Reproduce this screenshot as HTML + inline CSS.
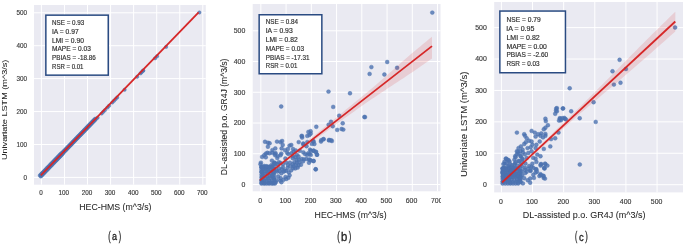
<!DOCTYPE html>
<html><head><meta charset="utf-8"><style>html,body{margin:0;padding:0;background:#fff;width:685px;height:245px;overflow:hidden;font-family:"Liberation Sans",sans-serif}svg{display:block;will-change:transform}</style></head>
<body><svg width="685" height="245" viewBox="0 0 685 245" font-family="Liberation Sans, sans-serif"><rect x="0" y="0" width="685" height="245" fill="#fff"/>
<rect x="34" y="5" width="171.80" height="179.70" fill="#EAEAF2"/>
<line x1="41.40" y1="5" x2="41.40" y2="184.7" stroke="#fff" stroke-width="1"/>
<line x1="64.46" y1="5" x2="64.46" y2="184.7" stroke="#fff" stroke-width="1"/>
<line x1="87.52" y1="5" x2="87.52" y2="184.7" stroke="#fff" stroke-width="1"/>
<line x1="110.58" y1="5" x2="110.58" y2="184.7" stroke="#fff" stroke-width="1"/>
<line x1="133.64" y1="5" x2="133.64" y2="184.7" stroke="#fff" stroke-width="1"/>
<line x1="156.70" y1="5" x2="156.70" y2="184.7" stroke="#fff" stroke-width="1"/>
<line x1="179.76" y1="5" x2="179.76" y2="184.7" stroke="#fff" stroke-width="1"/>
<line x1="202.82" y1="5" x2="202.82" y2="184.7" stroke="#fff" stroke-width="1"/>
<line x1="34" y1="177.40" x2="205.8" y2="177.40" stroke="#fff" stroke-width="1"/>
<line x1="34" y1="144.48" x2="205.8" y2="144.48" stroke="#fff" stroke-width="1"/>
<line x1="34" y1="111.56" x2="205.8" y2="111.56" stroke="#fff" stroke-width="1"/>
<line x1="34" y1="78.64" x2="205.8" y2="78.64" stroke="#fff" stroke-width="1"/>
<line x1="34" y1="45.72" x2="205.8" y2="45.72" stroke="#fff" stroke-width="1"/>
<line x1="34" y1="12.80" x2="205.8" y2="12.80" stroke="#fff" stroke-width="1"/>
<rect x="252.7" y="4" width="187.80" height="187.30" fill="#EAEAF2"/>
<line x1="260.85" y1="4" x2="260.85" y2="191.3" stroke="#fff" stroke-width="1"/>
<line x1="286.09" y1="4" x2="286.09" y2="191.3" stroke="#fff" stroke-width="1"/>
<line x1="311.33" y1="4" x2="311.33" y2="191.3" stroke="#fff" stroke-width="1"/>
<line x1="336.57" y1="4" x2="336.57" y2="191.3" stroke="#fff" stroke-width="1"/>
<line x1="361.81" y1="4" x2="361.81" y2="191.3" stroke="#fff" stroke-width="1"/>
<line x1="387.05" y1="4" x2="387.05" y2="191.3" stroke="#fff" stroke-width="1"/>
<line x1="412.29" y1="4" x2="412.29" y2="191.3" stroke="#fff" stroke-width="1"/>
<line x1="437.53" y1="4" x2="437.53" y2="191.3" stroke="#fff" stroke-width="1"/>
<line x1="252.7" y1="184.50" x2="440.5" y2="184.50" stroke="#fff" stroke-width="1"/>
<line x1="252.7" y1="153.76" x2="440.5" y2="153.76" stroke="#fff" stroke-width="1"/>
<line x1="252.7" y1="123.02" x2="440.5" y2="123.02" stroke="#fff" stroke-width="1"/>
<line x1="252.7" y1="92.28" x2="440.5" y2="92.28" stroke="#fff" stroke-width="1"/>
<line x1="252.7" y1="61.54" x2="440.5" y2="61.54" stroke="#fff" stroke-width="1"/>
<line x1="252.7" y1="30.80" x2="440.5" y2="30.80" stroke="#fff" stroke-width="1"/>
<rect x="494.2" y="2" width="188.80" height="190.40" fill="#EAEAF2"/>
<line x1="501.40" y1="2" x2="501.40" y2="192.4" stroke="#fff" stroke-width="1"/>
<line x1="532.53" y1="2" x2="532.53" y2="192.4" stroke="#fff" stroke-width="1"/>
<line x1="563.66" y1="2" x2="563.66" y2="192.4" stroke="#fff" stroke-width="1"/>
<line x1="594.79" y1="2" x2="594.79" y2="192.4" stroke="#fff" stroke-width="1"/>
<line x1="625.92" y1="2" x2="625.92" y2="192.4" stroke="#fff" stroke-width="1"/>
<line x1="657.05" y1="2" x2="657.05" y2="192.4" stroke="#fff" stroke-width="1"/>
<line x1="494.2" y1="184.70" x2="683" y2="184.70" stroke="#fff" stroke-width="1"/>
<line x1="494.2" y1="153.28" x2="683" y2="153.28" stroke="#fff" stroke-width="1"/>
<line x1="494.2" y1="121.86" x2="683" y2="121.86" stroke="#fff" stroke-width="1"/>
<line x1="494.2" y1="90.44" x2="683" y2="90.44" stroke="#fff" stroke-width="1"/>
<line x1="494.2" y1="59.02" x2="683" y2="59.02" stroke="#fff" stroke-width="1"/>
<line x1="494.2" y1="27.60" x2="683" y2="27.60" stroke="#fff" stroke-width="1"/>
<g fill="#4C72B0" fill-opacity="0.8" stroke="#4C72B0" stroke-opacity="0.8" stroke-width="0.5">
<circle cx="39.8" cy="175.5" r="1.7"/>
<circle cx="40.8" cy="176.5" r="1.7"/>
<circle cx="40.6" cy="174.7" r="1.7"/>
<circle cx="41.6" cy="175.7" r="1.7"/>
<circle cx="41.4" cy="173.8" r="1.7"/>
<circle cx="42.4" cy="174.9" r="1.7"/>
<circle cx="42.2" cy="173.0" r="1.7"/>
<circle cx="43.2" cy="174.0" r="1.7"/>
<circle cx="43.0" cy="172.2" r="1.7"/>
<circle cx="44.0" cy="173.2" r="1.7"/>
<circle cx="43.8" cy="171.4" r="1.7"/>
<circle cx="44.8" cy="172.4" r="1.7"/>
<circle cx="44.6" cy="170.5" r="1.7"/>
<circle cx="45.6" cy="171.6" r="1.7"/>
<circle cx="45.4" cy="169.7" r="1.7"/>
<circle cx="46.4" cy="170.7" r="1.7"/>
<circle cx="46.2" cy="168.9" r="1.7"/>
<circle cx="47.2" cy="169.9" r="1.7"/>
<circle cx="47.0" cy="168.0" r="1.7"/>
<circle cx="48.0" cy="169.1" r="1.7"/>
<circle cx="47.8" cy="167.2" r="1.7"/>
<circle cx="48.8" cy="168.3" r="1.7"/>
<circle cx="48.6" cy="166.4" r="1.7"/>
<circle cx="49.6" cy="167.4" r="1.7"/>
<circle cx="49.4" cy="165.6" r="1.7"/>
<circle cx="50.4" cy="166.6" r="1.7"/>
<circle cx="50.2" cy="164.7" r="1.7"/>
<circle cx="51.2" cy="165.8" r="1.7"/>
<circle cx="51.0" cy="163.9" r="1.7"/>
<circle cx="52.0" cy="165.0" r="1.7"/>
<circle cx="51.8" cy="163.1" r="1.7"/>
<circle cx="52.8" cy="164.1" r="1.7"/>
<circle cx="52.6" cy="162.3" r="1.7"/>
<circle cx="53.6" cy="163.3" r="1.7"/>
<circle cx="53.4" cy="161.4" r="1.7"/>
<circle cx="54.4" cy="162.5" r="1.7"/>
<circle cx="54.2" cy="160.6" r="1.7"/>
<circle cx="55.2" cy="161.6" r="1.7"/>
<circle cx="55.0" cy="159.8" r="1.7"/>
<circle cx="56.0" cy="160.8" r="1.7"/>
<circle cx="55.8" cy="159.0" r="1.7"/>
<circle cx="56.8" cy="160.0" r="1.7"/>
<circle cx="56.6" cy="158.1" r="1.7"/>
<circle cx="57.6" cy="159.2" r="1.7"/>
<circle cx="57.4" cy="157.3" r="1.7"/>
<circle cx="58.4" cy="158.3" r="1.7"/>
<circle cx="58.2" cy="156.5" r="1.7"/>
<circle cx="59.2" cy="157.5" r="1.7"/>
<circle cx="59.0" cy="155.6" r="1.7"/>
<circle cx="60.0" cy="156.7" r="1.7"/>
<circle cx="59.8" cy="154.8" r="1.7"/>
<circle cx="60.8" cy="155.9" r="1.7"/>
<circle cx="60.6" cy="154.0" r="1.7"/>
<circle cx="61.6" cy="155.0" r="1.7"/>
<circle cx="61.4" cy="153.2" r="1.7"/>
<circle cx="62.4" cy="154.2" r="1.7"/>
<circle cx="62.4" cy="152.5" r="1.7"/>
<circle cx="63.0" cy="153.2" r="1.7"/>
<circle cx="63.2" cy="151.7" r="1.7"/>
<circle cx="63.8" cy="152.3" r="1.7"/>
<circle cx="64.0" cy="150.9" r="1.7"/>
<circle cx="64.6" cy="151.5" r="1.7"/>
<circle cx="64.8" cy="150.1" r="1.7"/>
<circle cx="65.4" cy="150.7" r="1.7"/>
<circle cx="65.6" cy="149.2" r="1.7"/>
<circle cx="66.2" cy="149.9" r="1.7"/>
<circle cx="66.4" cy="148.4" r="1.7"/>
<circle cx="67.0" cy="149.0" r="1.7"/>
<circle cx="67.2" cy="147.6" r="1.7"/>
<circle cx="67.8" cy="148.2" r="1.7"/>
<circle cx="68.0" cy="146.8" r="1.7"/>
<circle cx="68.6" cy="147.4" r="1.7"/>
<circle cx="68.8" cy="145.9" r="1.7"/>
<circle cx="69.4" cy="146.6" r="1.7"/>
<circle cx="69.6" cy="145.1" r="1.7"/>
<circle cx="70.2" cy="145.7" r="1.7"/>
<circle cx="70.4" cy="144.3" r="1.7"/>
<circle cx="71.0" cy="144.9" r="1.7"/>
<circle cx="71.2" cy="143.5" r="1.7"/>
<circle cx="71.8" cy="144.1" r="1.7"/>
<circle cx="72.0" cy="142.6" r="1.7"/>
<circle cx="72.6" cy="143.3" r="1.7"/>
<circle cx="72.8" cy="141.8" r="1.7"/>
<circle cx="73.4" cy="142.4" r="1.7"/>
<circle cx="73.6" cy="141.0" r="1.7"/>
<circle cx="74.2" cy="141.6" r="1.7"/>
<circle cx="74.4" cy="140.1" r="1.7"/>
<circle cx="75.0" cy="140.8" r="1.7"/>
<circle cx="75.2" cy="139.3" r="1.7"/>
<circle cx="75.8" cy="139.9" r="1.7"/>
<circle cx="76.0" cy="138.5" r="1.7"/>
<circle cx="76.6" cy="139.1" r="1.7"/>
<circle cx="76.8" cy="137.7" r="1.7"/>
<circle cx="77.4" cy="138.3" r="1.7"/>
<circle cx="77.6" cy="136.8" r="1.7"/>
<circle cx="78.2" cy="137.5" r="1.7"/>
<circle cx="78.4" cy="136.0" r="1.7"/>
<circle cx="79.0" cy="136.6" r="1.7"/>
<circle cx="79.2" cy="135.2" r="1.7"/>
<circle cx="79.8" cy="135.8" r="1.7"/>
<circle cx="80.0" cy="134.4" r="1.7"/>
<circle cx="80.6" cy="135.0" r="1.7"/>
<circle cx="80.8" cy="133.5" r="1.7"/>
<circle cx="81.4" cy="134.2" r="1.7"/>
<circle cx="81.6" cy="132.7" r="1.7"/>
<circle cx="82.2" cy="133.3" r="1.7"/>
<circle cx="82.4" cy="131.9" r="1.7"/>
<circle cx="83.0" cy="132.5" r="1.7"/>
<circle cx="83.2" cy="131.1" r="1.7"/>
<circle cx="83.8" cy="131.7" r="1.7"/>
<circle cx="84.0" cy="130.2" r="1.7"/>
<circle cx="84.6" cy="130.9" r="1.7"/>
<circle cx="84.8" cy="129.4" r="1.7"/>
<circle cx="85.4" cy="130.0" r="1.7"/>
<circle cx="85.6" cy="128.6" r="1.7"/>
<circle cx="86.2" cy="129.2" r="1.7"/>
<circle cx="86.4" cy="127.8" r="1.7"/>
<circle cx="87.0" cy="128.4" r="1.7"/>
<circle cx="87.2" cy="126.9" r="1.7"/>
<circle cx="87.8" cy="127.5" r="1.7"/>
<circle cx="88.0" cy="126.1" r="1.7"/>
<circle cx="88.6" cy="126.7" r="1.7"/>
<circle cx="88.8" cy="125.3" r="1.7"/>
<circle cx="89.4" cy="125.9" r="1.7"/>
<circle cx="89.6" cy="124.4" r="1.7"/>
<circle cx="90.2" cy="125.1" r="1.7"/>
<circle cx="90.4" cy="123.6" r="1.7"/>
<circle cx="91.0" cy="124.2" r="1.7"/>
<circle cx="91.2" cy="122.8" r="1.7"/>
<circle cx="91.8" cy="123.4" r="1.7"/>
<circle cx="92.0" cy="122.0" r="1.7"/>
<circle cx="92.6" cy="122.6" r="1.7"/>
<circle cx="92.8" cy="121.1" r="1.7"/>
<circle cx="93.4" cy="121.8" r="1.7"/>
<circle cx="93.6" cy="120.3" r="1.7"/>
<circle cx="94.2" cy="120.9" r="1.7"/>
<circle cx="94.4" cy="119.5" r="1.7"/>
<circle cx="95.0" cy="120.1" r="1.7"/>
<circle cx="95.2" cy="118.7" r="1.7"/>
<circle cx="95.8" cy="119.3" r="1.7"/>
<circle cx="97.6" cy="117.7" r="1.7"/>
<circle cx="101.7" cy="113.5" r="1.7"/>
<circle cx="103.4" cy="111.7" r="1.7"/>
<circle cx="105.0" cy="110.1" r="1.7"/>
<circle cx="107.4" cy="107.6" r="1.7"/>
<circle cx="109.1" cy="105.8" r="1.7"/>
<circle cx="112.3" cy="102.5" r="1.7"/>
<circle cx="114.0" cy="100.8" r="1.7"/>
<circle cx="115.6" cy="99.1" r="1.7"/>
<circle cx="117.2" cy="97.5" r="1.7"/>
<circle cx="124.6" cy="89.8" r="1.7"/>
<circle cx="137.2" cy="76.8" r="1.7"/>
<circle cx="140.5" cy="73.4" r="1.7"/>
<circle cx="141.6" cy="72.2" r="1.7"/>
<circle cx="143.0" cy="70.8" r="1.7"/>
<circle cx="143.3" cy="70.5" r="1.7"/>
<circle cx="155.1" cy="58.3" r="1.7"/>
<circle cx="157.1" cy="56.2" r="1.7"/>
<circle cx="166.1" cy="46.9" r="1.7"/>
<circle cx="199.4" cy="12.5" r="1.7"/>
</g>
<g fill="#4C72B0" fill-opacity="0.8" stroke="#4C72B0" stroke-opacity="0.8" stroke-width="0.5">
<circle cx="432.3" cy="12.6" r="1.95"/>
<circle cx="371.4" cy="67.1" r="1.95"/>
<circle cx="369.6" cy="73.9" r="1.95"/>
<circle cx="387.2" cy="62.0" r="1.95"/>
<circle cx="384.4" cy="74.5" r="1.95"/>
<circle cx="397.1" cy="67.8" r="1.95"/>
<circle cx="350.0" cy="93.3" r="1.95"/>
<circle cx="365.0" cy="117.1" r="1.95"/>
<circle cx="328.5" cy="91.6" r="1.95"/>
<circle cx="333.2" cy="106.9" r="1.95"/>
<circle cx="281.2" cy="106.5" r="1.95"/>
<circle cx="315.7" cy="169.3" r="1.95"/>
<circle cx="316.3" cy="126.8" r="1.95"/>
<circle cx="310.6" cy="131.2" r="1.95"/>
<circle cx="309.5" cy="135.0" r="1.95"/>
<circle cx="302.0" cy="136.1" r="1.95"/>
<circle cx="331.0" cy="121.8" r="1.95"/>
<circle cx="328.6" cy="124.7" r="1.95"/>
<circle cx="332.7" cy="126.3" r="1.95"/>
<circle cx="339.2" cy="115.7" r="1.95"/>
<circle cx="337.2" cy="129.9" r="1.95"/>
<circle cx="321.2" cy="140.2" r="1.95"/>
<circle cx="323.7" cy="139.1" r="1.95"/>
<circle cx="329.1" cy="139.9" r="1.95"/>
<circle cx="331.0" cy="140.2" r="1.95"/>
<circle cx="313.1" cy="141.0" r="1.95"/>
<circle cx="314.4" cy="144.0" r="1.95"/>
<circle cx="303.3" cy="143.5" r="1.95"/>
<circle cx="306.5" cy="146.2" r="1.95"/>
<circle cx="310.7" cy="133.6" r="1.95"/>
<circle cx="342.7" cy="123.3" r="1.95"/>
<circle cx="341.6" cy="129.0" r="1.95"/>
<circle cx="343.3" cy="129.6" r="1.95"/>
<circle cx="364.4" cy="117.0" r="1.95"/>
<circle cx="301.6" cy="135.9" r="1.95"/>
<circle cx="308.4" cy="131.9" r="1.95"/>
<circle cx="307.3" cy="135.9" r="1.95"/>
<circle cx="321.0" cy="141.6" r="1.95"/>
<circle cx="323.3" cy="139.3" r="1.95"/>
<circle cx="329.0" cy="140.4" r="1.95"/>
<circle cx="331.9" cy="141.0" r="1.95"/>
<circle cx="313.6" cy="141.6" r="1.95"/>
<circle cx="311.9" cy="143.9" r="1.95"/>
<circle cx="310.1" cy="149.6" r="1.95"/>
<circle cx="313.6" cy="150.7" r="1.95"/>
<circle cx="315.9" cy="151.9" r="1.95"/>
<circle cx="317.0" cy="154.7" r="1.95"/>
<circle cx="313.6" cy="161.0" r="1.95"/>
<circle cx="282.1" cy="141.0" r="1.95"/>
<circle cx="282.7" cy="145.0" r="1.95"/>
<circle cx="281.6" cy="148.4" r="1.95"/>
<circle cx="289.6" cy="145.6" r="1.95"/>
<circle cx="291.3" cy="145.0" r="1.95"/>
<circle cx="287.9" cy="149.0" r="1.95"/>
<circle cx="285.0" cy="150.1" r="1.95"/>
<circle cx="293.0" cy="149.0" r="1.95"/>
<circle cx="298.7" cy="142.1" r="1.95"/>
<circle cx="302.1" cy="137.6" r="1.95"/>
<circle cx="303.3" cy="144.4" r="1.95"/>
<circle cx="307.3" cy="142.1" r="1.95"/>
<circle cx="265.0" cy="141.8" r="1.95"/>
<circle cx="267.9" cy="142.7" r="1.95"/>
<circle cx="269.6" cy="143.3" r="1.95"/>
<circle cx="267.9" cy="146.7" r="1.95"/>
<circle cx="277.0" cy="141.6" r="1.95"/>
<circle cx="280.4" cy="142.1" r="1.95"/>
<circle cx="275.3" cy="148.4" r="1.95"/>
<circle cx="272.4" cy="150.1" r="1.95"/>
<circle cx="261.5" cy="167.4" r="1.95"/>
<circle cx="264.4" cy="167.0" r="1.95"/>
<circle cx="266.7" cy="167.0" r="1.95"/>
<circle cx="269.5" cy="167.3" r="1.95"/>
<circle cx="271.4" cy="167.0" r="1.95"/>
<circle cx="263.2" cy="169.2" r="1.95"/>
<circle cx="265.7" cy="168.7" r="1.95"/>
<circle cx="267.9" cy="169.5" r="1.95"/>
<circle cx="270.3" cy="169.8" r="1.95"/>
<circle cx="273.7" cy="168.7" r="1.95"/>
<circle cx="261.5" cy="171.6" r="1.95"/>
<circle cx="264.6" cy="171.4" r="1.95"/>
<circle cx="266.4" cy="171.4" r="1.95"/>
<circle cx="268.7" cy="171.2" r="1.95"/>
<circle cx="271.8" cy="171.5" r="1.95"/>
<circle cx="262.5" cy="173.5" r="1.95"/>
<circle cx="265.1" cy="173.7" r="1.95"/>
<circle cx="267.7" cy="173.2" r="1.95"/>
<circle cx="271.0" cy="173.9" r="1.95"/>
<circle cx="273.4" cy="173.4" r="1.95"/>
<circle cx="262.1" cy="176.5" r="1.95"/>
<circle cx="263.6" cy="175.8" r="1.95"/>
<circle cx="267.0" cy="176.3" r="1.95"/>
<circle cx="269.8" cy="176.0" r="1.95"/>
<circle cx="272.3" cy="176.3" r="1.95"/>
<circle cx="262.6" cy="178.4" r="1.95"/>
<circle cx="265.9" cy="178.7" r="1.95"/>
<circle cx="268.0" cy="178.4" r="1.95"/>
<circle cx="270.0" cy="178.0" r="1.95"/>
<circle cx="273.6" cy="178.2" r="1.95"/>
<circle cx="261.5" cy="180.6" r="1.95"/>
<circle cx="264.3" cy="180.8" r="1.95"/>
<circle cx="266.5" cy="180.5" r="1.95"/>
<circle cx="269.3" cy="180.9" r="1.95"/>
<circle cx="271.9" cy="180.4" r="1.95"/>
<circle cx="262.8" cy="182.3" r="1.95"/>
<circle cx="264.9" cy="183.1" r="1.95"/>
<circle cx="268.6" cy="182.9" r="1.95"/>
<circle cx="270.5" cy="182.4" r="1.95"/>
<circle cx="273.2" cy="183.4" r="1.95"/>
<circle cx="261.5" cy="167.0" r="1.95"/>
<circle cx="264.1" cy="167.0" r="1.95"/>
<circle cx="266.7" cy="167.0" r="1.95"/>
<circle cx="269.3" cy="167.0" r="1.95"/>
<circle cx="271.9" cy="167.0" r="1.95"/>
<circle cx="261.5" cy="183.6" r="1.95"/>
<circle cx="264.1" cy="183.6" r="1.95"/>
<circle cx="266.7" cy="183.6" r="1.95"/>
<circle cx="269.3" cy="183.6" r="1.95"/>
<circle cx="271.9" cy="183.6" r="1.95"/>
<circle cx="261.5" cy="167.0" r="1.95"/>
<circle cx="261.5" cy="169.6" r="1.95"/>
<circle cx="261.5" cy="172.2" r="1.95"/>
<circle cx="261.5" cy="174.8" r="1.95"/>
<circle cx="261.5" cy="177.4" r="1.95"/>
<circle cx="261.5" cy="180.0" r="1.95"/>
<circle cx="261.5" cy="182.6" r="1.95"/>
<circle cx="274.0" cy="167.0" r="1.95"/>
<circle cx="274.0" cy="169.6" r="1.95"/>
<circle cx="274.0" cy="172.2" r="1.95"/>
<circle cx="274.0" cy="174.8" r="1.95"/>
<circle cx="274.0" cy="177.4" r="1.95"/>
<circle cx="274.0" cy="180.0" r="1.95"/>
<circle cx="274.0" cy="182.6" r="1.95"/>
<circle cx="262.1" cy="156.9" r="1.95"/>
<circle cx="264.2" cy="155.3" r="1.95"/>
<circle cx="265.8" cy="153.6" r="1.95"/>
<circle cx="267.4" cy="152.8" r="1.95"/>
<circle cx="269.5" cy="153.2" r="1.95"/>
<circle cx="272.3" cy="152.8" r="1.95"/>
<circle cx="274.8" cy="153.6" r="1.95"/>
<circle cx="265.8" cy="157.3" r="1.95"/>
<circle cx="260.9" cy="162.6" r="1.95"/>
<circle cx="260.5" cy="164.2" r="1.95"/>
<circle cx="271.9" cy="160.6" r="1.95"/>
<circle cx="274.4" cy="162.6" r="1.95"/>
<circle cx="275.2" cy="155.3" r="1.95"/>
<circle cx="262.1" cy="167.5" r="1.95"/>
<circle cx="264.2" cy="165.9" r="1.95"/>
<circle cx="266.6" cy="166.3" r="1.95"/>
<circle cx="269.1" cy="166.7" r="1.95"/>
<circle cx="271.5" cy="165.1" r="1.95"/>
<circle cx="273.6" cy="164.2" r="1.95"/>
<circle cx="275.6" cy="163.8" r="1.95"/>
<circle cx="275.6" cy="153.2" r="1.95"/>
<circle cx="277.7" cy="156.1" r="1.95"/>
<circle cx="277.3" cy="158.1" r="1.95"/>
<circle cx="280.5" cy="155.3" r="1.95"/>
<circle cx="281.3" cy="153.6" r="1.95"/>
<circle cx="287.1" cy="152.8" r="1.95"/>
<circle cx="288.3" cy="154.0" r="1.95"/>
<circle cx="291.6" cy="153.2" r="1.95"/>
<circle cx="292.8" cy="156.1" r="1.95"/>
<circle cx="285.4" cy="158.5" r="1.95"/>
<circle cx="274.8" cy="163.0" r="1.95"/>
<circle cx="277.3" cy="164.2" r="1.95"/>
<circle cx="278.9" cy="162.2" r="1.95"/>
<circle cx="280.5" cy="163.0" r="1.95"/>
<circle cx="283.0" cy="167.5" r="1.95"/>
<circle cx="281.8" cy="169.1" r="1.95"/>
<circle cx="278.9" cy="168.3" r="1.95"/>
<circle cx="276.4" cy="170.4" r="1.95"/>
<circle cx="284.6" cy="170.8" r="1.95"/>
<circle cx="287.5" cy="167.9" r="1.95"/>
<circle cx="287.9" cy="165.1" r="1.95"/>
<circle cx="289.9" cy="162.6" r="1.95"/>
<circle cx="290.3" cy="166.3" r="1.95"/>
<circle cx="292.8" cy="164.2" r="1.95"/>
<circle cx="293.2" cy="168.3" r="1.95"/>
<circle cx="291.1" cy="170.4" r="1.95"/>
<circle cx="286.2" cy="162.6" r="1.95"/>
<circle cx="283.0" cy="164.2" r="1.95"/>
<circle cx="277.3" cy="171.6" r="1.95"/>
<circle cx="279.8" cy="171.2" r="1.95"/>
<circle cx="281.4" cy="173.3" r="1.95"/>
<circle cx="283.9" cy="171.6" r="1.95"/>
<circle cx="286.3" cy="170.8" r="1.95"/>
<circle cx="288.8" cy="172.4" r="1.95"/>
<circle cx="278.2" cy="176.5" r="1.95"/>
<circle cx="280.6" cy="178.2" r="1.95"/>
<circle cx="280.2" cy="180.6" r="1.95"/>
<circle cx="281.4" cy="182.2" r="1.95"/>
<circle cx="283.5" cy="179.8" r="1.95"/>
<circle cx="285.5" cy="176.9" r="1.95"/>
<circle cx="286.3" cy="179.0" r="1.95"/>
<circle cx="276.5" cy="180.2" r="1.95"/>
<circle cx="275.7" cy="182.2" r="1.95"/>
<circle cx="274.9" cy="183.5" r="1.95"/>
<circle cx="288.4" cy="177.8" r="1.95"/>
<circle cx="289.6" cy="175.3" r="1.95"/>
<circle cx="293.6" cy="151.6" r="1.95"/>
<circle cx="295.7" cy="150.4" r="1.95"/>
<circle cx="299.8" cy="150.8" r="1.95"/>
<circle cx="303.4" cy="152.4" r="1.95"/>
<circle cx="305.1" cy="154.1" r="1.95"/>
<circle cx="307.1" cy="154.9" r="1.95"/>
<circle cx="308.3" cy="153.3" r="1.95"/>
<circle cx="310.8" cy="150.8" r="1.95"/>
<circle cx="310.8" cy="154.9" r="1.95"/>
<circle cx="296.9" cy="154.9" r="1.95"/>
<circle cx="298.5" cy="156.5" r="1.95"/>
<circle cx="295.3" cy="157.3" r="1.95"/>
<circle cx="296.5" cy="159.8" r="1.95"/>
<circle cx="298.9" cy="159.8" r="1.95"/>
<circle cx="294.4" cy="162.2" r="1.95"/>
<circle cx="296.9" cy="162.7" r="1.95"/>
<circle cx="299.3" cy="162.2" r="1.95"/>
<circle cx="296.1" cy="165.1" r="1.95"/>
<circle cx="298.5" cy="165.5" r="1.95"/>
<circle cx="301.0" cy="164.7" r="1.95"/>
<circle cx="293.6" cy="166.3" r="1.95"/>
<circle cx="295.3" cy="168.4" r="1.95"/>
<circle cx="297.7" cy="167.6" r="1.95"/>
<circle cx="301.8" cy="159.0" r="1.95"/>
<circle cx="303.8" cy="159.4" r="1.95"/>
<circle cx="306.3" cy="159.0" r="1.95"/>
<circle cx="309.1" cy="159.4" r="1.95"/>
<circle cx="310.8" cy="160.6" r="1.95"/>
<circle cx="303.0" cy="161.4" r="1.95"/>
<circle cx="292.8" cy="158.2" r="1.95"/>
<circle cx="315.7" cy="169.3" r="1.95"/>
<circle cx="309.6" cy="154.1" r="1.95"/>
<circle cx="310.1" cy="159.9" r="1.95"/>
<circle cx="313.6" cy="161.0" r="1.95"/>
<circle cx="309.0" cy="162.7" r="1.95"/>
<circle cx="313.6" cy="150.7" r="1.95"/>
<circle cx="315.9" cy="151.9" r="1.95"/>
<circle cx="317.0" cy="154.7" r="1.95"/>
</g>
<g fill="#4C72B0" fill-opacity="0.8" stroke="#4C72B0" stroke-opacity="0.8" stroke-width="0.5">
<circle cx="675.1" cy="27.5" r="1.95"/>
<circle cx="619.6" cy="59.8" r="1.95"/>
<circle cx="612.5" cy="71.3" r="1.95"/>
<circle cx="625.9" cy="69.0" r="1.95"/>
<circle cx="613.9" cy="84.6" r="1.95"/>
<circle cx="620.5" cy="82.7" r="1.95"/>
<circle cx="593.6" cy="102.2" r="1.95"/>
<circle cx="569.7" cy="88.3" r="1.95"/>
<circle cx="579.7" cy="118.2" r="1.95"/>
<circle cx="595.7" cy="121.9" r="1.95"/>
<circle cx="579.8" cy="164.5" r="1.95"/>
<circle cx="556.9" cy="108.1" r="1.95"/>
<circle cx="556.0" cy="110.5" r="1.95"/>
<circle cx="555.2" cy="113.8" r="1.95"/>
<circle cx="563.1" cy="108.4" r="1.95"/>
<circle cx="571.2" cy="111.3" r="1.95"/>
<circle cx="560.1" cy="118.7" r="1.95"/>
<circle cx="560.9" cy="120.3" r="1.95"/>
<circle cx="564.2" cy="117.9" r="1.95"/>
<circle cx="565.0" cy="118.7" r="1.95"/>
<circle cx="545.4" cy="118.7" r="1.95"/>
<circle cx="545.8" cy="121.1" r="1.95"/>
<circle cx="547.9" cy="125.2" r="1.95"/>
<circle cx="545.4" cy="127.7" r="1.95"/>
<circle cx="543.8" cy="129.3" r="1.95"/>
<circle cx="534.8" cy="132.6" r="1.95"/>
<circle cx="541.3" cy="133.4" r="1.95"/>
<circle cx="545.4" cy="133.9" r="1.95"/>
<circle cx="558.5" cy="132.6" r="1.95"/>
<circle cx="538.1" cy="134.2" r="1.95"/>
<circle cx="556.3" cy="108.5" r="1.95"/>
<circle cx="562.8" cy="108.5" r="1.95"/>
<circle cx="556.9" cy="111.2" r="1.95"/>
<circle cx="559.8" cy="118.2" r="1.95"/>
<circle cx="562.2" cy="118.2" r="1.95"/>
<circle cx="565.9" cy="119.4" r="1.95"/>
<circle cx="559.0" cy="120.6" r="1.95"/>
<circle cx="516.9" cy="132.6" r="1.95"/>
<circle cx="524.2" cy="134.2" r="1.95"/>
<circle cx="531.6" cy="130.9" r="1.95"/>
<circle cx="535.6" cy="136.6" r="1.95"/>
<circle cx="540.5" cy="135.8" r="1.95"/>
<circle cx="543.0" cy="137.4" r="1.95"/>
<circle cx="545.4" cy="135.8" r="1.95"/>
<circle cx="539.7" cy="141.5" r="1.95"/>
<circle cx="536.4" cy="144.8" r="1.95"/>
<circle cx="535.6" cy="148.1" r="1.95"/>
<circle cx="543.8" cy="148.9" r="1.95"/>
<circle cx="550.3" cy="146.4" r="1.95"/>
<circle cx="551.1" cy="139.1" r="1.95"/>
<circle cx="555.2" cy="138.3" r="1.95"/>
<circle cx="537.3" cy="154.6" r="1.95"/>
<circle cx="540.5" cy="156.2" r="1.95"/>
<circle cx="535.6" cy="158.7" r="1.95"/>
<circle cx="536.4" cy="161.9" r="1.95"/>
<circle cx="541.3" cy="164.1" r="1.95"/>
<circle cx="545.4" cy="164.1" r="1.95"/>
<circle cx="544.6" cy="168.5" r="1.95"/>
<circle cx="536.4" cy="169.3" r="1.95"/>
<circle cx="535.6" cy="172.6" r="1.95"/>
<circle cx="540.5" cy="174.2" r="1.95"/>
<circle cx="506.2" cy="158.7" r="1.95"/>
<circle cx="508.7" cy="160.3" r="1.95"/>
<circle cx="504.6" cy="163.6" r="1.95"/>
<circle cx="503.8" cy="167.7" r="1.95"/>
<circle cx="503.0" cy="171.7" r="1.95"/>
<circle cx="518.5" cy="148.1" r="1.95"/>
<circle cx="520.9" cy="146.4" r="1.95"/>
<circle cx="522.6" cy="149.7" r="1.95"/>
<circle cx="524.2" cy="144.0" r="1.95"/>
<circle cx="525.8" cy="142.3" r="1.95"/>
<circle cx="526.7" cy="138.3" r="1.95"/>
<circle cx="525.0" cy="135.8" r="1.95"/>
<circle cx="529.1" cy="140.7" r="1.95"/>
<circle cx="531.6" cy="141.5" r="1.95"/>
<circle cx="532.4" cy="144.8" r="1.95"/>
<circle cx="530.7" cy="147.2" r="1.95"/>
<circle cx="527.5" cy="148.1" r="1.95"/>
<circle cx="516.9" cy="151.3" r="1.95"/>
<circle cx="518.5" cy="153.8" r="1.95"/>
<circle cx="515.2" cy="156.2" r="1.95"/>
<circle cx="520.9" cy="156.2" r="1.95"/>
<circle cx="522.6" cy="159.5" r="1.95"/>
<circle cx="526.7" cy="157.9" r="1.95"/>
<circle cx="528.3" cy="153.0" r="1.95"/>
<circle cx="531.6" cy="151.3" r="1.95"/>
<circle cx="518.5" cy="161.1" r="1.95"/>
<circle cx="515.2" cy="163.6" r="1.95"/>
<circle cx="512.0" cy="165.2" r="1.95"/>
<circle cx="513.6" cy="167.7" r="1.95"/>
<circle cx="508.7" cy="166.8" r="1.95"/>
<circle cx="507.1" cy="170.1" r="1.95"/>
<circle cx="510.3" cy="171.7" r="1.95"/>
<circle cx="505.4" cy="174.2" r="1.95"/>
<circle cx="521.8" cy="166.0" r="1.95"/>
<circle cx="525.0" cy="167.7" r="1.95"/>
<circle cx="529.1" cy="166.0" r="1.95"/>
<circle cx="532.4" cy="163.6" r="1.95"/>
<circle cx="526.7" cy="171.7" r="1.95"/>
<circle cx="530.7" cy="170.9" r="1.95"/>
<circle cx="533.2" cy="157.9" r="1.95"/>
<circle cx="533.2" cy="167.7" r="1.95"/>
<circle cx="525.3" cy="173.0" r="1.95"/>
<circle cx="528.4" cy="168.7" r="1.95"/>
<circle cx="531.5" cy="166.8" r="1.95"/>
<circle cx="530.2" cy="170.5" r="1.95"/>
<circle cx="535.7" cy="169.3" r="1.95"/>
<circle cx="537.0" cy="171.7" r="1.95"/>
<circle cx="533.3" cy="174.8" r="1.95"/>
<circle cx="533.9" cy="177.9" r="1.95"/>
<circle cx="530.2" cy="178.5" r="1.95"/>
<circle cx="527.8" cy="180.3" r="1.95"/>
<circle cx="530.2" cy="182.7" r="1.95"/>
<circle cx="522.9" cy="183.4" r="1.95"/>
<circle cx="520.4" cy="182.1" r="1.95"/>
<circle cx="539.4" cy="176.0" r="1.95"/>
<circle cx="543.7" cy="176.0" r="1.95"/>
<circle cx="543.7" cy="177.9" r="1.95"/>
<circle cx="544.3" cy="168.1" r="1.95"/>
<circle cx="540.6" cy="165.6" r="1.95"/>
<circle cx="547.4" cy="165.6" r="1.95"/>
<circle cx="520.4" cy="177.2" r="1.95"/>
<circle cx="519.2" cy="180.3" r="1.95"/>
<circle cx="545.0" cy="163.6" r="1.95"/>
<circle cx="544.3" cy="167.9" r="1.95"/>
<circle cx="540.7" cy="164.3" r="1.95"/>
<circle cx="542.9" cy="175.7" r="1.95"/>
<circle cx="545.0" cy="178.6" r="1.95"/>
<circle cx="540.7" cy="175.0" r="1.95"/>
<circle cx="503.1" cy="169.0" r="1.95"/>
<circle cx="504.7" cy="168.5" r="1.95"/>
<circle cx="508.2" cy="168.8" r="1.95"/>
<circle cx="510.6" cy="168.5" r="1.95"/>
<circle cx="513.1" cy="168.6" r="1.95"/>
<circle cx="515.7" cy="168.5" r="1.95"/>
<circle cx="518.1" cy="168.5" r="1.95"/>
<circle cx="504.2" cy="171.4" r="1.95"/>
<circle cx="507.0" cy="170.8" r="1.95"/>
<circle cx="509.0" cy="170.5" r="1.95"/>
<circle cx="511.1" cy="170.2" r="1.95"/>
<circle cx="514.3" cy="170.5" r="1.95"/>
<circle cx="516.8" cy="171.2" r="1.95"/>
<circle cx="519.5" cy="170.8" r="1.95"/>
<circle cx="502.6" cy="172.5" r="1.95"/>
<circle cx="505.0" cy="172.6" r="1.95"/>
<circle cx="507.8" cy="173.6" r="1.95"/>
<circle cx="510.6" cy="172.6" r="1.95"/>
<circle cx="513.5" cy="173.4" r="1.95"/>
<circle cx="515.9" cy="173.5" r="1.95"/>
<circle cx="518.5" cy="173.4" r="1.95"/>
<circle cx="503.7" cy="175.9" r="1.95"/>
<circle cx="507.1" cy="174.9" r="1.95"/>
<circle cx="509.4" cy="175.5" r="1.95"/>
<circle cx="511.7" cy="175.3" r="1.95"/>
<circle cx="514.3" cy="175.8" r="1.95"/>
<circle cx="516.9" cy="175.7" r="1.95"/>
<circle cx="519.3" cy="175.7" r="1.95"/>
<circle cx="503.1" cy="177.5" r="1.95"/>
<circle cx="505.3" cy="178.1" r="1.95"/>
<circle cx="508.1" cy="177.5" r="1.95"/>
<circle cx="510.1" cy="177.3" r="1.95"/>
<circle cx="513.2" cy="177.1" r="1.95"/>
<circle cx="516.1" cy="177.3" r="1.95"/>
<circle cx="518.7" cy="177.3" r="1.95"/>
<circle cx="504.4" cy="180.1" r="1.95"/>
<circle cx="506.5" cy="179.8" r="1.95"/>
<circle cx="509.3" cy="179.9" r="1.95"/>
<circle cx="511.5" cy="179.5" r="1.95"/>
<circle cx="514.3" cy="180.3" r="1.95"/>
<circle cx="517.0" cy="179.3" r="1.95"/>
<circle cx="519.9" cy="180.1" r="1.95"/>
<circle cx="503.1" cy="181.7" r="1.95"/>
<circle cx="505.5" cy="181.5" r="1.95"/>
<circle cx="508.0" cy="181.8" r="1.95"/>
<circle cx="510.1" cy="182.5" r="1.95"/>
<circle cx="512.5" cy="182.1" r="1.95"/>
<circle cx="516.0" cy="181.8" r="1.95"/>
<circle cx="517.9" cy="182.5" r="1.95"/>
<circle cx="502.6" cy="168.5" r="1.95"/>
<circle cx="505.2" cy="168.5" r="1.95"/>
<circle cx="507.8" cy="168.5" r="1.95"/>
<circle cx="510.4" cy="168.5" r="1.95"/>
<circle cx="513.0" cy="168.5" r="1.95"/>
<circle cx="515.6" cy="168.5" r="1.95"/>
<circle cx="518.2" cy="168.5" r="1.95"/>
<circle cx="502.6" cy="183.5" r="1.95"/>
<circle cx="505.2" cy="183.5" r="1.95"/>
<circle cx="507.8" cy="183.5" r="1.95"/>
<circle cx="510.4" cy="183.5" r="1.95"/>
<circle cx="513.0" cy="183.5" r="1.95"/>
<circle cx="515.6" cy="183.5" r="1.95"/>
<circle cx="518.2" cy="183.5" r="1.95"/>
<circle cx="502.6" cy="168.5" r="1.95"/>
<circle cx="502.6" cy="171.1" r="1.95"/>
<circle cx="502.6" cy="173.7" r="1.95"/>
<circle cx="502.6" cy="176.3" r="1.95"/>
<circle cx="502.6" cy="178.9" r="1.95"/>
<circle cx="502.6" cy="181.5" r="1.95"/>
<circle cx="520.5" cy="168.5" r="1.95"/>
<circle cx="520.5" cy="171.1" r="1.95"/>
<circle cx="520.5" cy="173.7" r="1.95"/>
<circle cx="520.5" cy="176.3" r="1.95"/>
<circle cx="520.5" cy="178.9" r="1.95"/>
<circle cx="520.5" cy="181.5" r="1.95"/>
<circle cx="505.8" cy="158.6" r="1.95"/>
<circle cx="507.6" cy="159.8" r="1.95"/>
<circle cx="504.6" cy="161.6" r="1.95"/>
<circle cx="503.3" cy="164.1" r="1.95"/>
<circle cx="506.4" cy="163.5" r="1.95"/>
<circle cx="509.5" cy="161.6" r="1.95"/>
<circle cx="510.1" cy="164.1" r="1.95"/>
<circle cx="508.2" cy="165.9" r="1.95"/>
<circle cx="505.2" cy="168.4" r="1.95"/>
<circle cx="503.3" cy="170.2" r="1.95"/>
<circle cx="502.7" cy="172.6" r="1.95"/>
<circle cx="503.3" cy="175.1" r="1.95"/>
<circle cx="503.3" cy="177.5" r="1.95"/>
<circle cx="507.0" cy="169.6" r="1.95"/>
<circle cx="509.5" cy="168.4" r="1.95"/>
<circle cx="511.9" cy="167.1" r="1.95"/>
<circle cx="514.4" cy="164.7" r="1.95"/>
<circle cx="515.6" cy="162.2" r="1.95"/>
<circle cx="514.4" cy="159.8" r="1.95"/>
<circle cx="515.6" cy="157.3" r="1.95"/>
<circle cx="516.8" cy="154.3" r="1.95"/>
<circle cx="518.0" cy="151.8" r="1.95"/>
<circle cx="520.5" cy="151.2" r="1.95"/>
<circle cx="522.9" cy="152.4" r="1.95"/>
<circle cx="524.8" cy="154.3" r="1.95"/>
<circle cx="520.5" cy="156.1" r="1.95"/>
<circle cx="522.3" cy="158.6" r="1.95"/>
<circle cx="519.3" cy="161.0" r="1.95"/>
<circle cx="517.4" cy="165.9" r="1.95"/>
<circle cx="520.5" cy="164.7" r="1.95"/>
<circle cx="522.3" cy="162.2" r="1.95"/>
<circle cx="525.4" cy="163.5" r="1.95"/>
<circle cx="524.8" cy="169.6" r="1.95"/>
<circle cx="521.7" cy="171.4" r="1.95"/>
<circle cx="519.3" cy="173.3" r="1.95"/>
<circle cx="517.4" cy="175.7" r="1.95"/>
<circle cx="522.3" cy="175.1" r="1.95"/>
<circle cx="514.4" cy="174.5" r="1.95"/>
<circle cx="511.9" cy="176.9" r="1.95"/>
<circle cx="508.2" cy="178.8" r="1.95"/>
<circle cx="506.4" cy="175.7" r="1.95"/>
<circle cx="509.5" cy="173.9" r="1.95"/>
<circle cx="511.3" cy="171.4" r="1.95"/>
<circle cx="514.4" cy="171.4" r="1.95"/>
<circle cx="524.2" cy="178.2" r="1.95"/>
</g>
<line x1="40.8" y1="175.49" x2="198.6" y2="12.44" stroke="#D62728" stroke-width="1.8"/>
<polygon points="259.90,178.85 262.77,176.59 265.64,174.32 268.50,172.06 271.37,169.79 274.24,167.52 277.11,165.26 279.98,162.99 282.85,160.72 285.71,158.46 288.58,156.19 291.45,153.92 294.32,151.66 297.19,149.39 300.06,147.12 302.92,144.78 305.79,142.43 308.66,140.09 311.53,137.74 314.40,135.40 317.27,133.05 320.13,130.71 323.00,128.36 325.87,126.01 328.74,123.67 331.61,121.32 334.48,118.98 337.34,116.63 340.21,114.29 343.08,111.96 345.95,109.62 348.82,107.29 351.69,104.96 354.56,102.62 357.42,100.29 360.29,97.95 363.16,95.62 366.03,93.29 368.90,90.86 371.76,88.39 374.63,85.91 377.50,83.44 380.37,80.96 383.24,78.49 386.11,76.01 388.98,73.54 391.84,71.01 394.71,68.46 397.58,65.91 400.45,63.35 403.32,60.80 406.18,58.25 409.05,55.69 411.92,53.26 414.79,50.90 417.66,48.53 420.53,46.16 423.39,43.79 426.26,41.42 429.13,39.05 432.00,36.69 432.00,58.59 429.13,60.56 426.26,62.54 423.39,64.52 420.53,66.49 417.66,68.47 414.79,70.45 411.92,72.43 409.05,74.37 406.18,76.25 403.32,78.13 400.45,80.01 397.58,81.89 394.71,83.77 391.84,85.65 388.98,87.54 386.11,89.47 383.24,91.39 380.37,93.32 377.50,95.25 374.63,97.17 371.76,99.10 368.90,101.02 366.03,102.99 363.16,105.02 360.29,107.06 357.42,109.10 354.56,111.13 351.69,113.17 348.82,115.20 345.95,117.24 343.08,119.27 340.21,121.31 337.34,123.42 334.48,125.54 331.61,127.65 328.74,129.77 325.87,131.88 323.00,134.00 320.13,136.12 317.27,138.23 314.40,140.35 311.53,142.46 308.66,144.58 305.79,146.70 302.92,148.81 300.06,150.93 297.19,153.13 294.32,155.34 291.45,157.55 288.58,159.76 285.71,161.97 282.85,164.18 279.98,166.39 277.11,168.60 274.24,170.81 271.37,173.02 268.50,175.23 265.64,177.43 262.77,179.64 259.90,181.85" fill="#D62728" fill-opacity="0.15"/>
<line x1="259.9" y1="180.35" x2="432.0" y2="46.09" stroke="#D62728" stroke-width="1.8"/>
<polygon points="502.10,180.95 504.99,178.24 507.87,175.54 510.76,172.83 513.65,170.13 516.53,167.42 519.42,164.72 522.31,162.01 525.19,159.30 528.08,156.60 530.97,153.89 533.85,151.19 536.74,148.48 539.63,145.78 542.51,143.00 545.40,140.22 548.29,137.44 551.17,134.65 554.06,131.87 556.95,129.09 559.83,126.30 562.72,123.52 565.61,120.74 568.49,117.95 571.38,115.17 574.27,112.38 577.15,109.60 580.04,106.82 582.93,103.93 585.81,101.05 588.70,98.16 591.59,95.28 594.47,92.39 597.36,89.51 600.25,86.62 603.13,83.71 606.02,80.79 608.91,77.88 611.79,74.97 614.68,72.05 617.57,69.14 620.45,66.23 623.34,63.31 626.23,60.40 629.11,57.49 632.00,54.57 634.89,51.66 637.77,48.75 640.66,45.83 643.55,42.92 646.43,40.04 649.32,37.21 652.21,34.37 655.09,31.54 657.98,28.70 660.87,25.87 663.75,23.03 666.64,20.20 669.53,17.36 672.41,14.53 675.30,11.69 675.30,31.49 672.41,34.04 669.53,36.59 666.64,39.14 663.75,41.69 660.87,44.24 657.98,46.79 655.09,49.34 652.21,51.89 649.32,54.44 646.43,56.99 643.55,59.51 640.66,62.01 637.77,64.50 634.89,67.00 632.00,69.50 629.11,72.00 626.23,74.50 623.34,76.99 620.45,79.49 617.57,81.93 614.68,84.35 611.79,86.77 608.91,89.19 606.02,91.62 603.13,94.04 600.25,96.46 597.36,98.91 594.47,101.36 591.59,103.82 588.70,106.27 585.81,108.72 582.93,111.17 580.04,113.62 577.15,116.17 574.27,118.73 571.38,121.28 568.49,123.83 565.61,126.38 562.72,128.94 559.83,131.49 556.95,134.04 554.06,136.59 551.17,139.15 548.29,141.70 545.40,144.25 542.51,146.81 539.63,149.37 536.74,152.03 533.85,154.69 530.97,157.35 528.08,160.01 525.19,162.67 522.31,165.33 519.42,167.99 516.53,170.65 513.65,173.31 510.76,175.97 507.87,178.63 504.99,181.29 502.10,183.95" fill="#D62728" fill-opacity="0.15"/>
<line x1="502.1" y1="182.45" x2="675.3" y2="21.49" stroke="#D62728" stroke-width="1.8"/>
<rect x="45.85" y="15.15" width="62.40" height="60.00" fill="#fff" stroke="#2A4B82" stroke-width="1.5"/>
<rect x="259.15" y="14.75" width="62.70" height="59.00" fill="#fff" stroke="#2A4B82" stroke-width="1.5"/>
<rect x="499.85" y="11.05" width="65.60" height="61.70" fill="#fff" stroke="#2A4B82" stroke-width="1.5"/>
<text x="52.09" y="25.00" font-size="6.47" fill="#333" stroke="#333" stroke-width="0.18" textLength="32.19" lengthAdjust="spacingAndGlyphs">NSE = 0.93</text>
<text x="51.99" y="33.78" font-size="6.47" fill="#333" stroke="#333" stroke-width="0.18" textLength="26.64" lengthAdjust="spacingAndGlyphs">IA = 0.97</text>
<text x="52.05" y="42.56" font-size="6.47" fill="#333" stroke="#333" stroke-width="0.18" textLength="31.81" lengthAdjust="spacingAndGlyphs">LMI = 0.90</text>
<text x="52.06" y="51.34" font-size="6.47" fill="#333" stroke="#333" stroke-width="0.18" textLength="38.72" lengthAdjust="spacingAndGlyphs">MAPE = 0.03</text>
<text x="52.08" y="60.12" font-size="6.47" fill="#333" stroke="#333" stroke-width="0.18" textLength="43.59" lengthAdjust="spacingAndGlyphs">PBIAS = -18.86</text>
<text x="52.10" y="68.90" font-size="6.47" fill="#333" stroke="#333" stroke-width="0.18" textLength="31.39" lengthAdjust="spacingAndGlyphs">RSR = 0.01</text>
<text x="265.78" y="24.00" font-size="6.54" fill="#333" stroke="#333" stroke-width="0.18" textLength="32.30" lengthAdjust="spacingAndGlyphs">NSE = 0.84</text>
<text x="265.68" y="32.88" font-size="6.54" fill="#333" stroke="#333" stroke-width="0.18" textLength="27.01" lengthAdjust="spacingAndGlyphs">IA = 0.93</text>
<text x="265.75" y="41.76" font-size="6.54" fill="#333" stroke="#333" stroke-width="0.18" textLength="31.89" lengthAdjust="spacingAndGlyphs">LMI = 0.82</text>
<text x="265.77" y="50.64" font-size="6.54" fill="#333" stroke="#333" stroke-width="0.18" textLength="38.21" lengthAdjust="spacingAndGlyphs">MAPE = 0.03</text>
<text x="265.78" y="59.52" font-size="6.54" fill="#333" stroke="#333" stroke-width="0.18" textLength="43.73" lengthAdjust="spacingAndGlyphs">PBIAS = -17.31</text>
<text x="265.80" y="68.40" font-size="6.54" fill="#333" stroke="#333" stroke-width="0.18" textLength="31.49" lengthAdjust="spacingAndGlyphs">RSR = 0.01</text>
<text x="506.46" y="21.70" font-size="6.69" fill="#333" stroke="#333" stroke-width="0.18" textLength="34.16" lengthAdjust="spacingAndGlyphs">NSE = 0.79</text>
<text x="506.36" y="30.64" font-size="6.69" fill="#333" stroke="#333" stroke-width="0.18" textLength="28.03" lengthAdjust="spacingAndGlyphs">IA = 0.95</text>
<text x="506.42" y="39.58" font-size="6.69" fill="#333" stroke="#333" stroke-width="0.18" textLength="33.33" lengthAdjust="spacingAndGlyphs">LMI = 0.82</text>
<text x="506.44" y="48.52" font-size="6.69" fill="#333" stroke="#333" stroke-width="0.18" textLength="40.43" lengthAdjust="spacingAndGlyphs">MAPE = 0.00</text>
<text x="506.46" y="57.46" font-size="6.69" fill="#333" stroke="#333" stroke-width="0.18" textLength="41.80" lengthAdjust="spacingAndGlyphs">PBIAS = -2.60</text>
<text x="506.48" y="66.40" font-size="6.69" fill="#333" stroke="#333" stroke-width="0.18" textLength="33.20" lengthAdjust="spacingAndGlyphs">RSR = 0.03</text>
<text x="39.13" y="195.45" font-size="6.44" fill="#3a3a3a" stroke="#3a3a3a" stroke-width="0.15" textLength="3.53" lengthAdjust="spacingAndGlyphs">0</text>
<text x="58.54" y="195.45" font-size="6.44" fill="#3a3a3a" stroke="#3a3a3a" stroke-width="0.15" textLength="10.60" lengthAdjust="spacingAndGlyphs">100</text>
<text x="81.68" y="195.45" font-size="6.44" fill="#3a3a3a" stroke="#3a3a3a" stroke-width="0.15" textLength="10.60" lengthAdjust="spacingAndGlyphs">200</text>
<text x="104.78" y="195.45" font-size="6.44" fill="#3a3a3a" stroke="#3a3a3a" stroke-width="0.15" textLength="10.60" lengthAdjust="spacingAndGlyphs">300</text>
<text x="127.89" y="195.45" font-size="6.44" fill="#3a3a3a" stroke="#3a3a3a" stroke-width="0.15" textLength="10.60" lengthAdjust="spacingAndGlyphs">400</text>
<text x="150.90" y="195.45" font-size="6.44" fill="#3a3a3a" stroke="#3a3a3a" stroke-width="0.15" textLength="10.60" lengthAdjust="spacingAndGlyphs">500</text>
<text x="173.92" y="195.45" font-size="6.44" fill="#3a3a3a" stroke="#3a3a3a" stroke-width="0.15" textLength="10.60" lengthAdjust="spacingAndGlyphs">600</text>
<text x="196.98" y="195.45" font-size="6.44" fill="#3a3a3a" stroke="#3a3a3a" stroke-width="0.15" textLength="10.60" lengthAdjust="spacingAndGlyphs">700</text>
<text x="23.61" y="180.05" font-size="6.44" fill="#3a3a3a" stroke="#3a3a3a" stroke-width="0.15" textLength="3.53" lengthAdjust="spacingAndGlyphs">0</text>
<text x="16.55" y="147.13" font-size="6.44" fill="#3a3a3a" stroke="#3a3a3a" stroke-width="0.15" textLength="10.60" lengthAdjust="spacingAndGlyphs">100</text>
<text x="16.55" y="114.21" font-size="6.44" fill="#3a3a3a" stroke="#3a3a3a" stroke-width="0.15" textLength="10.60" lengthAdjust="spacingAndGlyphs">200</text>
<text x="16.55" y="81.29" font-size="6.44" fill="#3a3a3a" stroke="#3a3a3a" stroke-width="0.15" textLength="10.60" lengthAdjust="spacingAndGlyphs">300</text>
<text x="16.55" y="48.37" font-size="6.44" fill="#3a3a3a" stroke="#3a3a3a" stroke-width="0.15" textLength="10.60" lengthAdjust="spacingAndGlyphs">400</text>
<text x="16.55" y="15.45" font-size="6.44" fill="#3a3a3a" stroke="#3a3a3a" stroke-width="0.15" textLength="10.60" lengthAdjust="spacingAndGlyphs">500</text>
<text x="258.23" y="203.45" font-size="6.95" fill="#3a3a3a" stroke="#3a3a3a" stroke-width="0.15" textLength="3.85" lengthAdjust="spacingAndGlyphs">0</text>
<text x="279.49" y="203.45" font-size="6.95" fill="#3a3a3a" stroke="#3a3a3a" stroke-width="0.15" textLength="11.55" lengthAdjust="spacingAndGlyphs">100</text>
<text x="304.82" y="203.45" font-size="6.95" fill="#3a3a3a" stroke="#3a3a3a" stroke-width="0.15" textLength="11.55" lengthAdjust="spacingAndGlyphs">200</text>
<text x="330.10" y="203.45" font-size="6.95" fill="#3a3a3a" stroke="#3a3a3a" stroke-width="0.15" textLength="11.55" lengthAdjust="spacingAndGlyphs">300</text>
<text x="355.39" y="203.45" font-size="6.95" fill="#3a3a3a" stroke="#3a3a3a" stroke-width="0.15" textLength="11.55" lengthAdjust="spacingAndGlyphs">400</text>
<text x="380.57" y="203.45" font-size="6.95" fill="#3a3a3a" stroke="#3a3a3a" stroke-width="0.15" textLength="11.55" lengthAdjust="spacingAndGlyphs">500</text>
<text x="405.78" y="203.45" font-size="6.95" fill="#3a3a3a" stroke="#3a3a3a" stroke-width="0.15" textLength="11.55" lengthAdjust="spacingAndGlyphs">600</text>
<text x="431.01" y="203.45" font-size="6.95" fill="#3a3a3a" stroke="#3a3a3a" stroke-width="0.15" textLength="11.55" lengthAdjust="spacingAndGlyphs">700</text>
<text x="241.42" y="186.93" font-size="6.95" fill="#3a3a3a" stroke="#3a3a3a" stroke-width="0.15" textLength="3.85" lengthAdjust="spacingAndGlyphs">0</text>
<text x="233.72" y="156.19" font-size="6.95" fill="#3a3a3a" stroke="#3a3a3a" stroke-width="0.15" textLength="11.55" lengthAdjust="spacingAndGlyphs">100</text>
<text x="233.72" y="125.44" font-size="6.95" fill="#3a3a3a" stroke="#3a3a3a" stroke-width="0.15" textLength="11.55" lengthAdjust="spacingAndGlyphs">200</text>
<text x="233.72" y="94.70" font-size="6.95" fill="#3a3a3a" stroke="#3a3a3a" stroke-width="0.15" textLength="11.55" lengthAdjust="spacingAndGlyphs">300</text>
<text x="233.72" y="63.96" font-size="6.95" fill="#3a3a3a" stroke="#3a3a3a" stroke-width="0.15" textLength="11.55" lengthAdjust="spacingAndGlyphs">400</text>
<text x="233.72" y="33.22" font-size="6.95" fill="#3a3a3a" stroke="#3a3a3a" stroke-width="0.15" textLength="11.55" lengthAdjust="spacingAndGlyphs">500</text>
<text x="499.08" y="203.60" font-size="6.95" fill="#3a3a3a" stroke="#3a3a3a" stroke-width="0.15" textLength="3.85" lengthAdjust="spacingAndGlyphs">0</text>
<text x="526.23" y="203.60" font-size="6.95" fill="#3a3a3a" stroke="#3a3a3a" stroke-width="0.15" textLength="11.55" lengthAdjust="spacingAndGlyphs">100</text>
<text x="557.45" y="203.60" font-size="6.95" fill="#3a3a3a" stroke="#3a3a3a" stroke-width="0.15" textLength="11.55" lengthAdjust="spacingAndGlyphs">200</text>
<text x="588.62" y="203.60" font-size="6.95" fill="#3a3a3a" stroke="#3a3a3a" stroke-width="0.15" textLength="11.55" lengthAdjust="spacingAndGlyphs">300</text>
<text x="619.80" y="203.60" font-size="6.95" fill="#3a3a3a" stroke="#3a3a3a" stroke-width="0.15" textLength="11.55" lengthAdjust="spacingAndGlyphs">400</text>
<text x="650.87" y="203.60" font-size="6.95" fill="#3a3a3a" stroke="#3a3a3a" stroke-width="0.15" textLength="11.55" lengthAdjust="spacingAndGlyphs">500</text>
<text x="482.92" y="187.12" font-size="6.95" fill="#3a3a3a" stroke="#3a3a3a" stroke-width="0.15" textLength="3.85" lengthAdjust="spacingAndGlyphs">0</text>
<text x="475.22" y="155.71" font-size="6.95" fill="#3a3a3a" stroke="#3a3a3a" stroke-width="0.15" textLength="11.55" lengthAdjust="spacingAndGlyphs">100</text>
<text x="475.22" y="124.28" font-size="6.95" fill="#3a3a3a" stroke="#3a3a3a" stroke-width="0.15" textLength="11.55" lengthAdjust="spacingAndGlyphs">200</text>
<text x="475.22" y="92.86" font-size="6.95" fill="#3a3a3a" stroke="#3a3a3a" stroke-width="0.15" textLength="11.55" lengthAdjust="spacingAndGlyphs">300</text>
<text x="475.22" y="61.44" font-size="6.95" fill="#3a3a3a" stroke="#3a3a3a" stroke-width="0.15" textLength="11.55" lengthAdjust="spacingAndGlyphs">400</text>
<text x="475.22" y="30.02" font-size="6.95" fill="#3a3a3a" stroke="#3a3a3a" stroke-width="0.15" textLength="11.55" lengthAdjust="spacingAndGlyphs">500</text>
<rect x="441" y="195" width="4" height="11" fill="#fff"/>
<text x="79.28" y="209.70" font-size="8.43" fill="#262626" stroke="#262626" stroke-width="0.05" textLength="72.26" lengthAdjust="spacingAndGlyphs">HEC-HMS (m^3/s)</text>
<text x="314.58" y="217.50" font-size="8.43" fill="#262626" stroke="#262626" stroke-width="0.05" textLength="72.06" lengthAdjust="spacingAndGlyphs">HEC-HMS (m^3/s)</text>
<text x="522.76" y="217.60" font-size="8.43" fill="#262626" stroke="#262626" stroke-width="0.05" textLength="122.80" lengthAdjust="spacingAndGlyphs">DL-assisted p.o. GR4J (m^3/s)</text>
<text transform="translate(7.3,159.4) rotate(-90)" x="-0.70" y="0" font-size="7.99" fill="#262626" stroke="#262626" stroke-width="0.05" textLength="100.47" lengthAdjust="spacingAndGlyphs">Univariate LSTM (m^3/s)</text>
<text transform="translate(227.4,174.6) rotate(-90)" x="-0.70" y="0" font-size="8.43" fill="#262626" stroke="#262626" stroke-width="0.05" textLength="116.73" lengthAdjust="spacingAndGlyphs">DL-assisted p.o. GR4J (m^3/s)</text>
<text transform="translate(467.2,176.3) rotate(-90)" x="-0.74" y="0" font-size="8.43" fill="#262626" stroke="#262626" stroke-width="0.05" textLength="105.43" lengthAdjust="spacingAndGlyphs">Univariate LSTM (m^3/s)</text>
<text transform="translate(108.16,240.34) scale(0.5805,1)" x="0" y="0" font-size="12.34" fill="#262626" stroke="#262626" stroke-width="0.35">(</text>
<text transform="translate(111.92,240.00) scale(0.8920,1)" x="0" y="0" font-size="10.04" fill="#262626" stroke="#262626" stroke-width="0.35">a</text>
<text transform="translate(118.86,240.34) scale(0.5805,1)" x="0" y="0" font-size="12.34" fill="#262626" stroke="#262626" stroke-width="0.35">)</text>
<text transform="translate(337.23,240.44) scale(0.6111,1)" x="0" y="0" font-size="12.34" fill="#262626" stroke="#262626" stroke-width="0.35">(</text>
<text transform="translate(340.97,240.78) scale(0.9358,1)" x="0" y="0" font-size="12.12" fill="#262626" stroke="#262626" stroke-width="0.35">b</text>
<text transform="translate(348.66,240.44) scale(0.6111,1)" x="0" y="0" font-size="12.34" fill="#262626" stroke="#262626" stroke-width="0.35">)</text>
<text transform="translate(575.08,240.32) scale(0.5452,1)" x="0" y="0" font-size="12.45" fill="#262626" stroke="#262626" stroke-width="0.35">(</text>
<text transform="translate(578.91,240.50) scale(0.9076,1)" x="0" y="0" font-size="10.22" fill="#262626" stroke="#262626" stroke-width="0.35">c</text>
<text transform="translate(585.36,240.32) scale(0.6058,1)" x="0" y="0" font-size="12.45" fill="#262626" stroke="#262626" stroke-width="0.35">)</text></svg></body></html>
